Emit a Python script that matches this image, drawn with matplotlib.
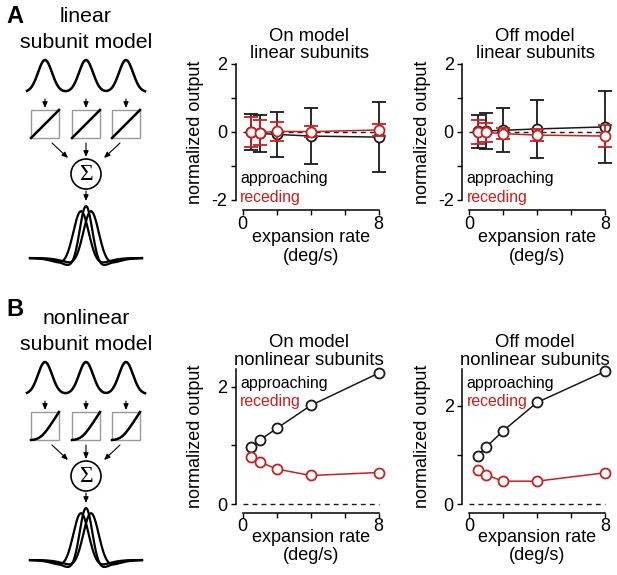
#!usr/bin/env python3

'''
Approaching vs receding responses of linear and nonlinear subunit models
'''

import numpy as np
import matplotlib
matplotlib.use('Agg')
import matplotlib.pyplot as plt
from matplotlib.patches import Rectangle, Circle

plt.rcParams['font.family'] = ['Liberation Sans', 'DejaVu Sans']
plt.rcParams['axes.unicode_minus'] = False

RED = '#cc1f1f'
DARK = '#1a1a1a'

# expansion rates (deg/s)
rates = [0.5, 1, 2, 4, 8]

# linear subunits, On model
on_lin_appr = [-0.01, -0.04, -0.07, -0.12, -0.15]
on_lin_appr_err = [0.53, 0.55, 0.66, 0.82, 1.02]
on_lin_rec = [0.0, -0.02, 0.02, 0.01, 0.06]
on_lin_rec_err = [0.45, 0.37, 0.28, 0.16, 0.19]

# linear subunits, Off model
off_lin_appr = [0.02, 0.03, 0.05, 0.09, 0.15]
off_lin_appr_err = [0.49, 0.54, 0.65, 0.85, 1.05]
off_lin_rec = [0.0, -0.01, -0.05, -0.09, -0.12]
off_lin_rec_err = [0.34, 0.27, 0.17, 0.18, 0.32]

# nonlinear subunits
on_nl_appr = [0.98, 1.09, 1.29, 1.68, 2.23]
on_nl_rec = [0.80, 0.72, 0.60, 0.49, 0.54]
off_nl_appr = [0.98, 1.16, 1.49, 2.07, 2.70]
off_nl_rec = [0.70, 0.60, 0.47, 0.47, 0.64]

xticks = [0, 2, 4, 6, 8]
xticklabels = ['0', '', '', '', '8']
lin_yticks = [-2, -1, 0, 1, 2]
lin_yticklabels = ['-2', '', '0', '', '2']
nl_yticks = [0, 1, 2]
nl_yticklabels = ['0', '', '2']

W, H = 617, 575


def px_axes(fig, left, top, width, height):
    return fig.add_axes([left / W, 1 - (top + height) / H, width / W, height / H])


def style_axes(ax, ylim, yticks, yticklabels, spine_off, xlab_y):
    ax.set_xlim(-0.4, 8.2)
    ax.set_ylim(*ylim)
    for s in ['top', 'right']:
        ax.spines[s].set_visible(False)
    ax.spines['left'].set_bounds(ylim[0], ylim[1])
    ax.spines['bottom'].set_bounds(xticks[0], xticks[-1])
    ax.spines['bottom'].set_position(('outward', spine_off))
    for s in ['left', 'bottom']:
        ax.spines[s].set_linewidth(1.1)
    ax.set_xticks(xticks)
    ax.set_xticklabels(xticklabels)
    ax.set_yticks(yticks)
    ax.set_yticklabels(yticklabels)
    ax.tick_params(axis='both', labelsize=13, length=3.5, width=1.0,
                   direction='out')
    ax.tick_params(axis='x', pad=0.5)
    ax.tick_params(axis='y', pad=2.5)
    ax.patch.set_visible(False)
    ax.set_ylabel('normalized output', fontsize=13)
    ax.yaxis.set_label_coords(-0.215, 0.5)
    ax.set_xlabel('expansion rate\n(deg/s)', fontsize=13, linespacing=1.1)
    ax.xaxis.set_label_coords(0.512, xlab_y)
    ax.hlines(0, xticks[0], xticks[-1], colors=DARK, linestyles=(0, (3.5, 3)),
              lw=1.0, zorder=1, clip_on=False)


def plot_lin(ax, appr, appr_err, rec, rec_err, title):
    ax.errorbar(rates, appr, yerr=appr_err, color=DARK, lw=1.1, elinewidth=1.3,
                capsize=5, capthick=1.3, marker='o', ms=7.2, mfc='white',
                mec=DARK, mew=1.3, zorder=3, clip_on=False)
    ax.errorbar(rates, rec, yerr=rec_err, color=RED, lw=1.1, elinewidth=1.3,
                capsize=5, capthick=1.3, marker='o', ms=7.2, mfc='white',
                mec=RED, mew=1.3, zorder=4, clip_on=False)
    ax.set_title(title, fontsize=13.3, linespacing=1.05, pad=4)
    ax.text(0.03, 0.16, 'approaching', transform=ax.transAxes, fontsize=11.4,
            color='black', va='center')
    ax.text(0.03, 0.02, 'receding', transform=ax.transAxes, fontsize=11.4,
            color=RED, va='center')


def plot_nl(ax, appr, rec, title):
    ax.plot(rates, appr, color=DARK, lw=1.1, marker='o', ms=7.2, mfc='white',
            mec=DARK, mew=1.3, zorder=3, clip_on=False)
    ax.plot(rates, rec, color=RED, lw=1.1, marker='o', ms=7.2, mfc='white',
            mec=RED, mew=1.3, zorder=4, clip_on=False)
    ax.set_title(title, fontsize=13.3, linespacing=1.05, pad=2)
    ax.text(0.03, 0.89, 'approaching', transform=ax.transAxes, fontsize=11.4,
            color='black', va='center')
    ax.text(0.03, 0.76, 'receding', transform=ax.transAxes, fontsize=11.4,
            color=RED, va='center')


def arrow(ax, x0, y0, x1, y1):
    ax.annotate('', xy=(x1, y1), xytext=(x0, y0),
                arrowprops=dict(arrowstyle='-|>,head_length=0.35,head_width=0.15',
                                lw=0.8, color='black', shrinkA=0, shrinkB=0))


def draw_model(ax, y0, letter, letter_y, word, nonlinear):
    ax.text(15, letter_y, letter, fontsize=17, fontweight='bold',
            ha='center', va='center')
    ax.text(86, y0 + 17, word, fontsize=15.3, ha='center', va='center')
    ax.text(86, y0 + 42, 'subunit model', fontsize=15.3, ha='center', va='center')

    centers = [45, 86, 126]
    xs = np.linspace(27, 145, 300)
    bumps = sum(np.exp(-(xs - c) ** 2 / (2 * 7.0 ** 2)) for c in centers)
    ax.plot(xs, y0 + 92 - 32 * bumps, color='black', lw=1.8)

    for c in centers:
        arrow(ax, c, y0 + 99, c, y0 + 108)
        ax.add_patch(Rectangle((c - 14, y0 + 110), 28, 28, fill=False,
                               ec='#9a9a9a', lw=1.0))
        u = np.linspace(0, 1, 100)
        if nonlinear:
            f = np.log1p(np.exp(8 * (u - 0.35))) / 8
            v = (f - f[0]) / (f[-1] - f[0])
        else:
            v = u
        ax.plot(c - 14 + 28 * u, y0 + 138 - 28 * v, color='black', lw=1.8)

    arrow(ax, 52, y0 + 143, 68, y0 + 158)
    arrow(ax, 86, y0 + 143, 86, y0 + 157)
    arrow(ax, 120, y0 + 143, 104, y0 + 158)
    ax.add_patch(Circle((86, y0 + 174), 15, fill=False, ec='black', lw=1.2))
    ax.text(86, y0 + 175, '\u03a3', family='Liberation Serif', fontsize=17,
            ha='center', va='center')
    arrow(ax, 86, y0 + 191, 86, y0 + 201)

    xs = np.linspace(30, 142, 400)
    for c, h, s in [(81, 0.9, 8.0), (91, 0.9, 8.0), (86, 1.0, 6.5)]:
        d = xs - c
        g = np.exp(-d ** 2 / (2 * s ** 2)) - 0.22 * np.exp(-d ** 2 / (2 * 17.0 ** 2))
        g = h * g / 0.78
        ax.plot(xs, y0 + 258 - 52 * g, color='black', lw=1.6)


fig = plt.figure(figsize=(W / 100, H / 100), dpi=100)

# schematic layer in pixel coordinates
sk = fig.add_axes([0, 0, 1, 1])
sk.set_xlim(0, W)
sk.set_ylim(H, 0)
sk.axis('off')
draw_model(sk, 0, 'A', 16.5, 'linear', False)
draw_model(sk, 302, 'B', 309.5, 'nonlinear', True)

ax1 = px_axes(fig, 235.9, 64, 146.2, 136)
style_axes(ax1, (-2, 2), lin_yticks, lin_yticklabels, 7.5, -0.215)
plot_lin(ax1, on_lin_appr, on_lin_appr_err, on_lin_rec, on_lin_rec_err,
         'On model\nlinear subunits')

ax2 = px_axes(fig, 462.2, 64, 146.2, 136)
style_axes(ax2, (-2, 2), lin_yticks, lin_yticklabels, 7.5, -0.215)
plot_lin(ax2, off_lin_appr, off_lin_appr_err, off_lin_rec, off_lin_rec_err,
         'Off model\nlinear subunits')

ax3 = px_axes(fig, 235.9, 369, 146.2, 135.3)
style_axes(ax3, (0, 2.3), nl_yticks, nl_yticklabels, 6.0, -0.18)
plot_nl(ax3, on_nl_appr, on_nl_rec, 'On model\nnonlinear subunits')

ax4 = px_axes(fig, 462.2, 369, 146.2, 135.3)
style_axes(ax4, (0, 2.75), nl_yticks, nl_yticklabels, 6.0, -0.18)
plot_nl(ax4, off_nl_appr, off_nl_rec, 'Off model\nnonlinear subunits')

fig.savefig('out.png', dpi=100)
